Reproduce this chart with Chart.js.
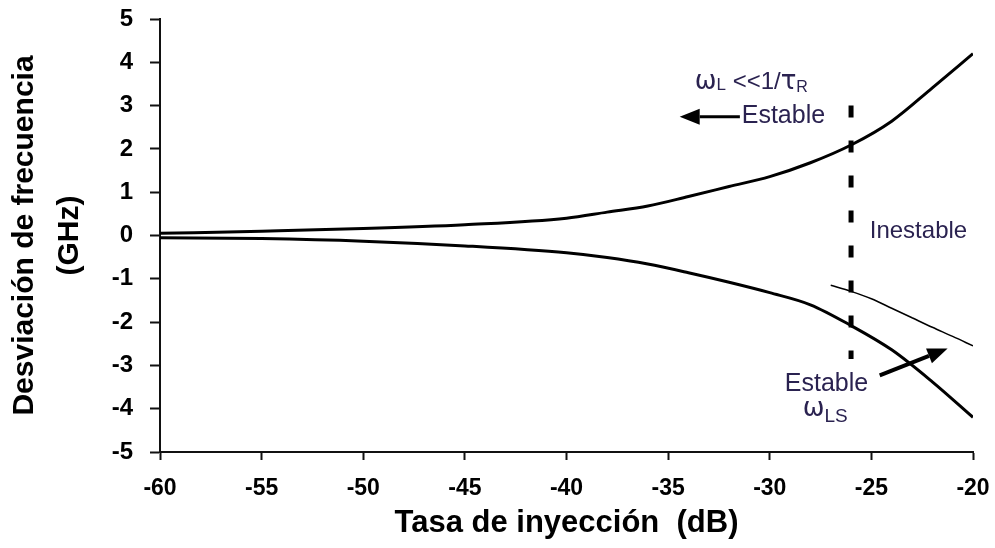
<!DOCTYPE html>
<html>
<head>
<meta charset="utf-8">
<script src="https://cdn.jsdelivr.net/npm/chart.js@4.4.0/dist/chart.umd.min.js"></script>
<style>
  body { margin: 0; background: #fff; }
</style>
</head>
<body>
<canvas id="grafica" width="995" height="548"></canvas>
<script>
// tasa de inyeccion (dB) y las dos ramas de enganche (GHz)
var tasa = [-60, -55, -50, -45, -40, -38, -36, -34, -32, -30, -28, -26, -24, -22, -20];
var ramaSuperior = [0.05, 0.1, 0.16, 0.25, 0.4, 0.54, 0.68, 0.9, 1.13, 1.36, 1.68, 2.09, 2.64, 3.41, 4.2];
var ramaInferior = [-0.05, -0.07, -0.13, -0.24, -0.4, -0.51, -0.66, -0.86, -1.08, -1.32, -1.6, -2.08, -2.64, -3.38, -4.2];

// rama fina (solo por encima de -27 dB)
var tasaLS = [-27, -26, -25, -24, -23, -22, -21, -20];
var ramaLS = [-1.15, -1.29, -1.46, -1.68, -1.9, -2.12, -2.33, -2.55];

// limite wL << 1/tauR
var limiteX = [-26, -26];
var limiteY = [3.0, -2.85];

var ticksX = [-60, -55, -50, -45, -40, -35, -30, -25, -20];
var ticksY = [-5, -4, -3, -2, -1, 0, 1, 2, 3, 4, 5];

function puntos(xs, ys) {
  return xs.map(function (v, i) { return { x: v, y: ys[i] }; });
}

var colorTexto = '#2a2250';
var fuente = '"Liberation Sans", Arial, sans-serif';
var griega = '"DejaVu Sans", sans-serif';

// textos y flechas sobre el area del grafico
var anotaciones = {
  id: 'anotaciones',
  afterDatasetsDraw: function (chart) {
    var ctx = chart.ctx, sx = chart.scales.x, sy = chart.scales.y;
    function px(v) { return sx.getPixelForValue(v); }
    function py(v) { return sy.getPixelForValue(v); }

    // partes: [texto, tamaño, desplazamiento vertical, familia]
    function texto(partes, xv, yv) {
      var cx = px(xv), cy = py(yv);
      partes.forEach(function (p) {
        ctx.font = p[1] + 'px ' + (p[3] || fuente);
        ctx.fillText(p[0], cx, cy + p[2]);
        cx += ctx.measureText(p[0]).width;
      });
    }

    function flecha(x0, y0, x1, y1, grosor) {
      var ax = px(x0), ay = py(y0), bx = px(x1), by = py(y1);
      var ang = Math.atan2(by - ay, bx - ax);
      var largo = 20, ancho = 8;
      var baseX = bx - largo * Math.cos(ang), baseY = by - largo * Math.sin(ang);
      ctx.strokeStyle = '#000';
      ctx.lineWidth = grosor;
      ctx.beginPath();
      ctx.moveTo(ax, ay);
      ctx.lineTo(baseX, baseY);
      ctx.stroke();
      ctx.fillStyle = '#000';
      ctx.beginPath();
      ctx.moveTo(bx, by);
      ctx.lineTo(baseX + ancho * Math.sin(ang), baseY - ancho * Math.cos(ang));
      ctx.lineTo(baseX - ancho * Math.sin(ang), baseY + ancho * Math.cos(ang));
      ctx.closePath();
      ctx.fill();
    }

    ctx.save();
    ctx.textAlign = 'left';
    ctx.textBaseline = 'alphabetic';
    ctx.fillStyle = colorTexto;
    texto([['\u03c9', 26, 0, griega], ['L', 17, 1], [' <<1/', 24, 0], ['\u03c4', 26, 0, griega], ['R', 16, 3]], -33.69, 3.39);
    texto([['Estable', 25, 0]], -31.38, 2.6);
    texto([['Inestable', 24, 0]], -25.08, -0.06);
    texto([['Estable', 25, 0]], -29.26, -3.58);
    texto([['\u03c9', 26, 0, griega], ['LS', 19, 6]], -28.38, -4.16);

    flecha(-31.47, 2.745, -34.43, 2.745, 3);
    flecha(-24.59, -3.23, -21.25, -2.61, 4);
    ctx.restore();
  }
};

new Chart(document.getElementById('grafica'), {
  type: 'line',
  data: {
    datasets: [{
      data: puntos(tasa, ramaSuperior),
      borderColor: '#000',
      borderWidth: 3,
      cubicInterpolationMode: 'monotone'
    }, {
      data: puntos(tasa, ramaInferior),
      borderColor: '#000',
      borderWidth: 3,
      cubicInterpolationMode: 'monotone'
    }, {
      data: puntos(tasaLS, ramaLS),
      borderColor: '#000',
      borderWidth: 1.5,
      cubicInterpolationMode: 'monotone'
    }, {
      data: puntos(limiteX, limiteY),
      borderColor: '#000',
      borderWidth: 5,
      borderDash: [12, 23],
      borderCapStyle: 'butt'
    }]
  },
  options: {
    responsive: false,
    animation: false,
    events: [],
    layout: { padding: { top: 19, right: 22, bottom: 0, left: 0 } },
    elements: { point: { radius: 0 } },
    plugins: { legend: { display: false }, tooltip: { enabled: false } },
    scales: {
      x: {
        type: 'linear',
        min: -60,
        max: -20,
        afterBuildTicks: function (eje) { eje.ticks = ticksX.map(function (v) { return { value: v }; }); },
        afterFit: function (eje) {
          eje.height = 96;
          eje.paddingLeft = 0;
          eje.paddingRight = 0;
        },
        border: { color: '#111', width: 2 },
        grid: { drawOnChartArea: false, drawTicks: true, tickLength: 8, tickWidth: 2, tickColor: '#111' },
        ticks: {
          color: '#000',
          padding: 15,
          maxRotation: 0,
          autoSkip: false,
          font: { family: fuente, size: 23, weight: 'bold' }
        },
        title: {
          display: true,
          text: 'Tasa de inyección  (dB)',
          color: '#000',
          padding: { top: 0, bottom: 6 },
          font: { family: fuente, size: 31, weight: 'bold' }
        }
      },
      y: {
        min: -5,
        max: 5,
        afterBuildTicks: function (eje) { eje.ticks = ticksY.map(function (v) { return { value: v }; }); },
        afterFit: function (eje) {
          eje.width = 160;
          eje.paddingTop = 0;
          eje.paddingBottom = 0;
        },
        border: { color: '#111', width: 2 },
        grid: { drawOnChartArea: false, drawTicks: true, tickLength: 10, tickWidth: 2, tickColor: '#111' },
        ticks: {
          color: '#000',
          padding: 17,
          font: { family: fuente, size: 24, weight: 'bold' }
        },
        title: {
          display: true,
          text: ['Desviación de frecuencia', '(GHz)'],
          color: '#000',
          padding: { top: 2, bottom: 0 },
          font: { family: fuente, size: 30, weight: 'bold', lineHeight: 1.5 }
        }
      }
    }
  },
  plugins: [anotaciones]
});
</script>
</body>
</html>
